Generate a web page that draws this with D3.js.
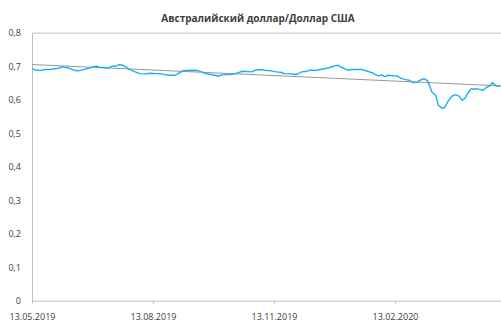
<!DOCTYPE html>
<html>
<head>
<meta charset="utf-8">
<script src="https://cdn.jsdelivr.net/npm/d3@7"></script>
<style>
  html, body { margin: 0; padding: 0; background: #fff; }
  svg { display: block; }
  text { font-family: "Open Sans", "DejaVu Sans", sans-serif; fill: #404040; }
</style>
</head>
<body>
<svg id="chart" width="501" height="322"></svg>
<script>
// AUD/USD daily rate (dd.mm.yyyy)
const dates = [
  "13.05.2019","15.05.2019","19.05.2019","23.05.2019","28.05.2019","02.06.2019","05.06.2019","08.06.2019",
  "11.06.2019","14.06.2019","17.06.2019","21.06.2019","25.06.2019","28.06.2019","01.07.2019","04.07.2019",
  "07.07.2019","10.07.2019","13.07.2019","16.07.2019","18.07.2019","21.07.2019","24.07.2019","27.07.2019",
  "30.07.2019","03.08.2019","07.08.2019","11.08.2019","15.08.2019","18.08.2019","22.08.2019","26.08.2019",
  "30.08.2019","02.09.2019","05.09.2019","09.09.2019","12.09.2019","16.09.2019","19.09.2019","22.09.2019",
  "25.09.2019","29.09.2019","02.10.2019","04.10.2019","08.10.2019","11.10.2019","14.10.2019","17.10.2019",
  "20.10.2019","23.10.2019","27.10.2019","30.10.2019","03.11.2019","06.11.2019","08.11.2019","11.11.2019",
  "15.11.2019","18.11.2019","21.11.2019","25.11.2019","29.11.2019","01.12.2019","04.12.2019","07.12.2019",
  "11.12.2019","14.12.2019","18.12.2019","22.12.2019","26.12.2019","29.12.2019","01.01.2020","03.01.2020",
  "05.01.2020","08.01.2020","11.01.2020","19.01.2020","23.01.2020","27.01.2020","29.01.2020","01.02.2020",
  "03.02.2020","05.02.2020","08.02.2020","11.02.2020","15.02.2020","17.02.2020","21.02.2020","24.02.2020",
  "27.02.2020","01.03.2020","02.03.2020","05.03.2020","06.03.2020","09.03.2020","12.03.2020","15.03.2020",
  "17.03.2020","20.03.2020","22.03.2020","24.03.2020","27.03.2020","30.03.2020","02.04.2020","04.04.2020",
  "06.04.2020","09.04.2020","11.04.2020","13.04.2020","15.04.2020","18.04.2020","20.04.2020","22.04.2020",
  "25.04.2020","27.04.2020","30.04.2020","03.05.2020"
];
const rates = [
  0.695,0.690,0.688,0.691,0.692,0.695,0.699,0.698,
  0.694,0.689,0.687,0.691,0.695,0.699,0.701,0.697,
  0.697,0.695,0.701,0.701,0.706,0.704,0.697,0.690,
  0.685,0.679,0.678,0.680,0.679,0.679,0.676,0.674,
  0.674,0.681,0.688,0.688,0.689,0.688,0.684,0.679,
  0.677,0.674,0.671,0.675,0.676,0.676,0.678,0.682,
  0.686,0.685,0.684,0.689,0.691,0.689,0.688,0.687,
  0.684,0.683,0.679,0.678,0.677,0.677,0.684,0.685,
  0.690,0.688,0.691,0.694,0.698,0.702,0.704,0.698,
  0.695,0.689,0.691,0.691,0.686,0.681,0.676,0.672,
  0.675,0.670,0.674,0.673,0.671,0.666,0.661,0.659,
  0.652,0.653,0.657,0.662,0.664,0.657,0.624,0.614,
  0.584,0.575,0.579,0.594,0.611,0.616,0.611,0.599,
  0.604,0.624,0.634,0.632,0.634,0.631,0.629,0.636,
  0.642,0.652,0.642,0.642
];

// Linear trend, first and last day of the period
const trendDates = ["13.05.2019", "04.05.2020"];
const trendValues = [0.706, 0.642];

const xTickLabels = ["13.05.2019", "13.08.2019", "13.11.2019", "13.02.2020"];
const yTickValues = [0, 0.1, 0.2, 0.3, 0.4, 0.5, 0.6, 0.7, 0.8];
const title = "Австралийский доллар/Доллар США";

const parse = d3.timeParse("%d.%m.%Y");
const fmtY = v => v === 0 ? "0" : d3.format(".1f")(v).replace(".", ",");

const svg = d3.select("#chart");
const plotLeft = 32, plotRight = 501.5, plotTop = 33.1, plotBottom = 300.7;

const x = d3.scaleTime()
  .domain([parse("13.05.2019"), parse("04.05.2020")])
  .range([plotLeft, plotRight]);
const y = d3.scaleLinear().domain([0, 0.8]).range([plotBottom, plotTop]);

// top border of the plot area
svg.append("line")
  .attr("x1", plotLeft).attr("x2", 501)
  .attr("y1", y(0.8)).attr("y2", y(0.8))
  .attr("stroke", "#bfbfbf").attr("stroke-width", 1);

// y axis
const yAxis = svg.append("g")
  .attr("transform", `translate(${plotLeft},0)`)
  .call(d3.axisLeft(y).tickValues(yTickValues).tickSize(0).tickPadding(11).tickFormat(fmtY));
yAxis.select(".domain").attr("stroke", "#bfbfbf");
yAxis.selectAll("text").style("font-size", "9px").attr("fill", "#404040");

// x axis
const xAxis = svg.append("g")
  .attr("transform", `translate(0,${plotBottom})`)
  .call(d3.axisBottom(x).tickValues(xTickLabels.map(parse)).tickSize(3).tickPadding(10)
    .tickFormat(d3.timeFormat("%d.%m.%Y")));
xAxis.select(".domain").attr("stroke", "#bfbfbf").attr("d", `M${plotLeft},0.5H501`);
xAxis.selectAll(".tick line").attr("stroke", "#bfbfbf");
xAxis.selectAll("text").style("font-size", "9px").attr("fill", "#404040");

// trend line
svg.append("path")
  .datum(trendDates.map((d, i) => [parse(d), trendValues[i]]))
  .attr("fill", "none")
  .attr("stroke", "#8c8c8c")
  .attr("stroke-width", 0.9)
  .attr("d", d3.line().x(d => x(d[0])).y(d => y(d[1])));

// rate line
svg.append("path")
  .datum(dates.map((d, i) => [parse(d), rates[i]]))
  .attr("fill", "none")
  .attr("stroke", "#1aaff0")
  .attr("stroke-width", 1.4)
  .attr("stroke-linejoin", "round")
  .attr("d", d3.line().x(d => x(d[0])).y(d => y(d[1])));

// title
svg.append("text")
  .attr("x", 258).attr("y", 22)
  .attr("text-anchor", "middle")
  .style("font-size", "10px").style("font-weight", "bold")
  .attr("fill", "#1a1a1a")
  .text(title);
</script>
</body>
</html>
